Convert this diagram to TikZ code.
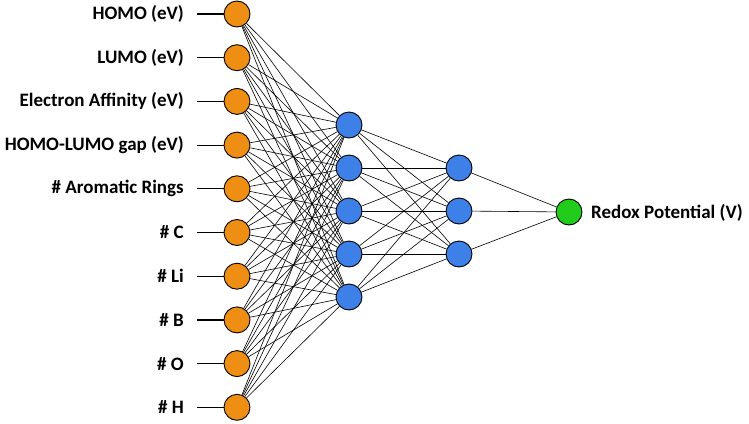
\documentclass[tikz,border=0pt]{standalone}
\usepackage{fontspec}
\setmainfont{Carlito}
\definecolor{inorange}{HTML}{EE8E12}
\definecolor{hidblue}{HTML}{3C80E8}
\definecolor{outgreen}{HTML}{22CC1A}
\begin{document}
\begin{tikzpicture}[x=1pt,y=-1pt,
  neuron/.style={circle,draw=black,line width=0.9pt,minimum size=26pt,inner sep=0pt},
  innode/.style={neuron,fill=inorange},
  hidnode/.style={neuron,fill=hidblue},
  outnode/.style={neuron,fill=outgreen},
  lab/.style={font=\fontsize{19}{21}\selectfont\bfseries,inner sep=0pt},
  edge/.style={draw=black,line width=0.6pt},
  stub/.style={draw=black,line width=1.2pt}]
\useasboundingbox (0,0) rectangle (749,423);
% input layer
\foreach \i/\t in {0/HOMO (eV),1/LUMO (eV),2/Electron Affinity (eV),3/HOMO-LUMO gap (eV),4/\# Aromatic Rings,5/\# C,6/\# Li,7/\# B,8/\# O,9/\# H}{
  \node[innode] (in\i) at (237,{14+43.7*\i}) {};
  \coordinate (st\i) at (197,{14+43.7*\i});
  \node[lab,anchor=east] (l\i) at (184,{14+43.7*\i}) {\t};
}
% hidden layer 1
\foreach \j/\y in {0/125,1/168,2/211,3/254,4/297}{
  \node[hidnode] (ha\j) at (349,\y) {};
}
% hidden layer 2
\foreach \k/\y in {0/168,1/211,2/254}{
  \node[hidnode] (hb\k) at (459,\y) {};
}
% output
\node[outnode] (out) at (569,212) {};
\node[lab,anchor=west] (outlab) at (591,213) {Redox Potential (V)};
% connections
\foreach \i in {0,...,9}{
  \draw[stub] (st\i) -- (in\i);
  \foreach \j in {0,...,4}{
    \draw[edge] (in\i) -- (ha\j);
  }
}
\foreach \j in {0,...,4}{
  \foreach \k in {0,1,2}{
    \draw[edge] (ha\j) -- (hb\k);
  }
}
\foreach \k in {0,1,2}{
  \draw[edge] (hb\k) -- (out);
}
\end{tikzpicture}
\end{document}
